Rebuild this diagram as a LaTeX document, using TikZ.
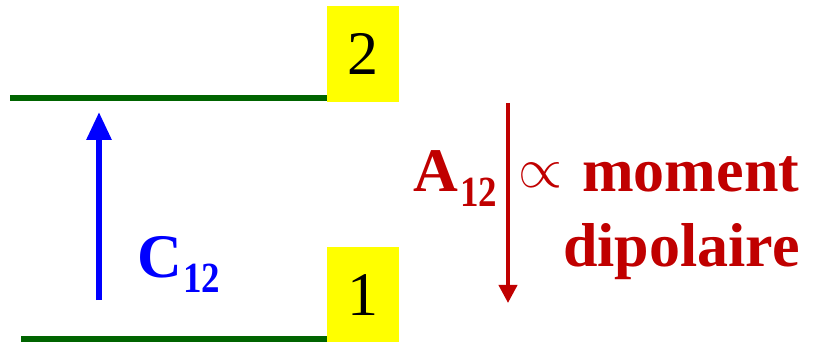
\documentclass[tikz,border=0pt]{standalone}
\usepackage{fontspec}
\usepackage{graphicx}
\setmainfont{Liberation Serif}
\usetikzlibrary{arrows.meta}
\definecolor{lvlgreen}{RGB}{0,100,0}
\definecolor{dred}{RGB}{192,0,0}
\definecolor{pureblue}{RGB}{0,0,255}
\definecolor{yel}{RGB}{255,255,0}
\newcommand{\squashsub}[1]{\scalebox{0.86}[1]{#1}}
\tikzset{
  level/.style={draw=lvlgreen, line width=6pt},
  ybox/.style={fill=yel, minimum width=72pt, minimum height=96pt, inner sep=0pt, font=\fontsize{62}{62}\selectfont},
  bigtxt/.style={inner sep=0pt, anchor=base west, font=\fontsize{62}{62}\selectfont\bfseries},
  subtxt/.style={inner sep=0pt, anchor=base west, font=\fontsize{43}{43}\selectfont\bfseries},
}
\begin{document}
\begin{tikzpicture}[x=1pt,y=-1pt]
\useasboundingbox (0,0) rectangle (815,342);
\node[ybox] (b2) at (363,54) {2};
\node[ybox] (b1) at (363,295) {1};
\coordinate (l2s) at (10,98);
\coordinate (l2e) at (327,98);
\coordinate (l1s) at (21,339);
\coordinate (l1e) at (327,339);
\draw[level] (l2s) -- (l2e);
\draw[level] (l1s) -- (l1e);
% C12 arrow
\coordinate (ca) at (99,300);
\coordinate (cb) at (99,112);
\draw[pureblue, line width=6pt, -{Triangle[length=28pt,width=24pt]}] (ca) -- (cb);
\node[bigtxt, text=pureblue] (C) at (137,278) {C};
\node[subtxt, text=pureblue] (Csub) at (183,293) {\squashsub{12}};
% A12 arrow
\coordinate (aa) at (508,103);
\coordinate (ab) at (508,303);
\draw[dred, line width=4pt, -{Triangle[length=18pt,width=18pt]}] (aa) -- (ab);
\node[bigtxt, text=dred] (A) at (413,192) {A};
\node[subtxt, text=dred] (Asub) at (460,207) {\squashsub{12}};
\node[inner sep=0pt, anchor=south west, text=dred] (prop) at (518,188) {\resizebox{44pt}{!}{$\propto$}};
\node[bigtxt, text=dred] (mom) at (582,192) {moment};
\node[bigtxt, text=dred] (dip) at (563,267) {dipolaire};
\end{tikzpicture}
\end{document}
